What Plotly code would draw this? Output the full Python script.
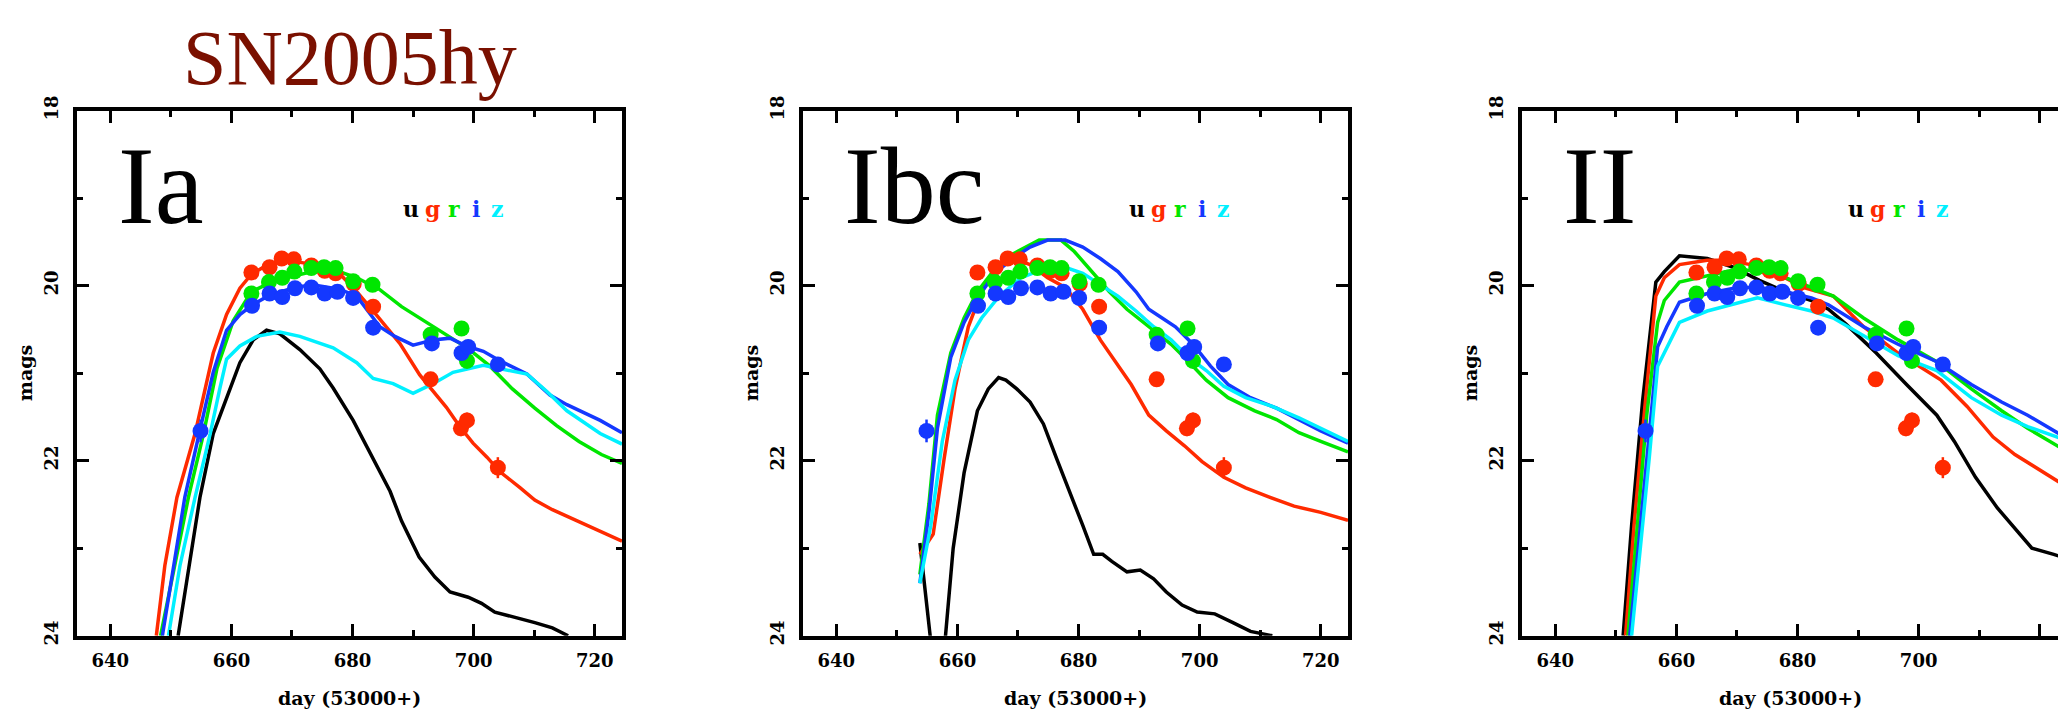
import plotly.graph_objects as go

# ---------------------------------------------------------------
# SN2005hy photometry (day = MJD - 53000)
# ---------------------------------------------------------------
g_day = [663.3, 666.3, 668.3, 670.3, 673.2, 675.4, 677.2, 680.2, 683.4, 692.9, 697.9, 698.9, 704.0]
g_mag = [19.85, 19.79, 19.69, 19.70, 19.77, 19.83, 19.86, 19.98, 20.24, 21.07, 21.63, 21.54, 22.08]
g_err = [0.03, 0.03, 0.03, 0.03, 0.03, 0.03, 0.03, 0.04, 0.05, 0.07, 0.09, 0.09, 0.12]

r_day = [663.3, 666.2, 668.4, 670.4, 673.2, 675.3, 677.2, 680.1, 683.3, 692.9, 698.0, 698.9]
r_mag = [20.09, 19.96, 19.91, 19.84, 19.80, 19.79, 19.80, 19.95, 19.99, 20.56, 20.49, 20.86]
r_err = [0.03, 0.03, 0.03, 0.03, 0.03, 0.03, 0.03, 0.03, 0.04, 0.05, 0.06, 0.06]

i_day = [654.9, 663.4, 666.3, 668.4, 670.5, 673.2, 675.4, 677.5, 680.1, 683.4, 693.1, 698.0, 699.1, 704.0]
i_mag = [21.66, 20.23, 20.09, 20.13, 20.03, 20.02, 20.09, 20.07, 20.14, 20.48, 20.66, 20.77, 20.70, 20.90]
i_err = [0.13, 0.03, 0.03, 0.03, 0.03, 0.03, 0.03, 0.03, 0.03, 0.04, 0.05, 0.06, 0.06, 0.07]

# ---------------------------------------------------------------
# Template light curves: type Ia
# ---------------------------------------------------------------
ia_u_day = [651.2, 653.0, 654.8, 657.0, 659.5, 661.4, 663.6, 665.8, 668.0, 671.3, 674.6, 676.8, 680.1,
            683.4, 686.2, 688.1, 691.0, 693.6, 696.1, 699.1, 701.3, 703.5, 706.4, 710.1, 713.0, 715.6]
ia_u_mag = [24.0, 23.2, 22.42, 21.69, 21.23, 20.88, 20.62, 20.51, 20.55, 20.73, 20.95, 21.17, 21.54,
            21.98, 22.35, 22.69, 23.10, 23.33, 23.50, 23.56, 23.63, 23.73, 23.78, 23.85, 23.91, 24.0]

ia_g_day = [647.6, 649.0, 651.0, 654.0, 657.0, 659.2, 661.4, 663.3, 666.0, 669.0, 671.9, 674.8, 677.8,
            680.7, 683.9, 687.8, 691.1, 693.3, 695.5, 697.7, 699.9, 702.2, 704.4, 707.7, 710.1, 713.0,
            715.9, 718.9, 721.8, 724.5]
ia_g_mag = [24.0, 23.2, 22.42, 21.69, 20.77, 20.33, 20.03, 19.87, 19.76, 19.71, 19.74, 19.79, 19.86,
            20.07, 20.33, 20.66, 21.02, 21.21, 21.39, 21.61, 21.80, 21.96, 22.13, 22.31, 22.45, 22.56,
            22.65, 22.75, 22.84, 22.92]

ia_r_day = [648.3, 650.6, 652.9, 655.4, 657.6, 660.3, 663.3, 666.0, 669.7, 673.4, 677.8, 680.7, 684.4,
            688.1, 691.7, 695.4, 699.1, 702.7, 706.4, 710.1, 713.7, 717.4, 721.1, 724.5]
ia_r_mag = [24.0, 23.2, 22.42, 21.69, 20.95, 20.40, 20.07, 19.98, 19.90, 19.84, 19.84, 19.91, 20.04,
            20.24, 20.40, 20.56, 20.72, 20.92, 21.18, 21.40, 21.60, 21.78, 21.93, 22.03]

ia_i_day = [648.6, 650.5, 652.3, 654.8, 657.0, 659.2, 661.4, 663.5, 666.0, 670.4, 673.4, 677.8, 680.7,
            684.5, 687.0, 690.0, 693.3, 696.1, 698.8, 701.6, 704.4, 708.8, 712.6, 715.4, 720.9, 724.5]
ia_i_mag = [24.0, 23.2, 22.42, 21.65, 20.99, 20.51, 20.33, 20.22, 20.12, 20.02, 19.99, 20.04, 20.12,
            20.47, 20.58, 20.68, 20.62, 20.60, 20.69, 20.75, 20.86, 21.01, 21.25, 21.36, 21.54, 21.68]

ia_z_day = [649.6, 651.5, 654.0, 656.5, 658.1, 659.2, 661.4, 664.2, 668.0, 671.3, 676.8, 680.7, 683.4,
            686.7, 690.0, 693.3, 696.6, 701.6, 704.4, 708.8, 712.1, 715.4, 720.9, 724.5]
ia_z_mag = [24.0, 23.2, 22.42, 21.69, 21.17, 20.84, 20.69, 20.58, 20.53, 20.58, 20.71, 20.88, 21.06,
            21.12, 21.23, 21.12, 20.99, 20.91, 20.95, 21.01, 21.21, 21.43, 21.69, 21.81]

# ---------------------------------------------------------------
# Template light curves: type Ibc
# ---------------------------------------------------------------
ibc_u_day = [653.8, 654.6, 655.6, 656.3, 657.4, 658.0, 659.3, 661.1, 663.3, 665.1, 666.8, 668.0, 669.8,
             672.0, 674.2, 676.4, 678.5, 680.7, 682.5, 684.0, 685.5, 688.0, 690.2, 692.4, 694.5, 697.1,
             699.6, 702.5, 705.5, 708.4, 712.0]
ibc_u_mag = [22.94, 23.40, 24.0, 24.5, 24.5, 24.0, 23.0, 22.14, 21.43, 21.18, 21.05, 21.08, 21.18,
             21.33, 21.58, 21.98, 22.34, 22.74, 23.07, 23.07, 23.15, 23.27, 23.25, 23.35, 23.50, 23.65,
             23.73, 23.75, 23.85, 23.95, 24.0]

ibc_g_day = [653.8, 656.0, 657.8, 659.6, 661.8, 664.0, 666.2, 669.1, 672.0, 674.9, 677.8, 680.7, 683.6,
             686.5, 688.7, 691.6, 694.5, 697.5, 700.4, 704.0, 707.6, 711.3, 715.6, 720.0, 724.5]
ibc_g_mag = [23.07, 22.84, 21.98, 21.18, 20.47, 20.07, 19.81, 19.69, 19.76, 19.91, 20.02, 20.27, 20.62,
             20.92, 21.13, 21.48, 21.66, 21.83, 22.01, 22.19, 22.31, 22.41, 22.52, 22.59, 22.68]

ibc_r_day = [653.8, 655.3, 656.7, 658.9, 661.1, 663.3, 666.2, 669.1, 673.5, 677.1, 679.3, 682.2, 685.1,
             688.0, 691.6, 695.3, 698.2, 701.1, 704.7, 709.1, 712.7, 716.4, 720.0, 724.5]
ibc_r_mag = [23.30, 22.49, 21.48, 20.77, 20.37, 20.07, 19.81, 19.64, 19.48, 19.48, 19.61, 19.84, 20.07,
             20.27, 20.47, 20.67, 20.87, 21.08, 21.28, 21.43, 21.53, 21.68, 21.78, 21.90]

ibc_i_day = [653.8, 655.3, 656.7, 658.9, 661.1, 663.3, 666.2, 669.1, 672.0, 674.9, 677.8, 680.7, 683.6,
             686.5, 689.5, 691.6, 693.8, 696.0, 698.9, 701.8, 704.7, 708.4, 712.7, 716.4, 720.0, 724.5]
ibc_i_mag = [23.40, 22.59, 21.63, 20.82, 20.42, 20.14, 19.86, 19.69, 19.56, 19.48, 19.48, 19.56, 19.69,
             19.84, 20.07, 20.27, 20.37, 20.47, 20.67, 20.92, 21.13, 21.28, 21.40, 21.53, 21.66, 21.80]

ibc_z_day = [653.8, 655.6, 657.5, 659.6, 661.8, 664.0, 666.9, 670.5, 674.2, 677.8, 680.7, 683.6, 686.5,
             689.5, 692.4, 695.3, 698.2, 701.1, 704.0, 707.6, 712.0, 716.4, 720.0, 724.5]
ibc_z_mag = [23.40, 22.74, 21.78, 21.08, 20.62, 20.37, 20.12, 19.91, 19.81, 19.79, 19.86, 19.99, 20.12,
             20.29, 20.47, 20.62, 20.82, 20.97, 21.15, 21.28, 21.38, 21.51, 21.63, 21.78]

# ---------------------------------------------------------------
# Template light curves: type II
# ---------------------------------------------------------------
ii_u_day = [651.2, 652.6, 654.4, 656.6, 658.0, 660.5, 665.1, 669.4, 673.7, 678.0, 682.3, 685.1, 688.0,
            693.0, 698.0, 703.0, 705.9, 709.4, 713.0, 716.6, 718.7, 722.3, 724.5]
ii_u_mag = [24.0, 22.74, 21.33, 19.96, 19.84, 19.66, 19.69, 19.79, 19.94, 20.07, 20.17, 20.27, 20.44,
            20.77, 21.13, 21.48, 21.78, 22.19, 22.54, 22.84, 23.00, 23.07, 23.12]

ii_g_day = [651.6, 653.0, 654.8, 656.6, 658.0, 660.5, 665.1, 668.0, 672.3, 676.6, 680.9, 685.9, 690.9,
            696.6, 700.1, 703.7, 708.0, 712.3, 715.9, 719.4, 722.9, 724.5]
ii_g_mag = [24.0, 22.74, 21.38, 20.12, 19.91, 19.76, 19.71, 19.71, 19.76, 19.86, 20.02, 20.12, 20.47,
            20.77, 20.92, 21.08, 21.38, 21.73, 21.93, 22.08, 22.24, 22.30]

ii_r_day = [652.0, 653.4, 655.1, 656.9, 658.0, 660.5, 665.1, 670.1, 673.7, 678.0, 682.3, 685.9, 690.9,
            696.6, 703.0, 708.7, 713.7, 718.0, 722.9, 724.5]
ii_r_mag = [24.0, 22.89, 21.48, 20.42, 20.17, 19.96, 19.89, 19.81, 19.84, 19.91, 20.02, 20.12, 20.37,
            20.62, 20.87, 21.18, 21.43, 21.63, 21.83, 21.90]

ii_i_day = [652.3, 653.7, 655.5, 656.9, 658.4, 660.5, 665.1, 670.1, 673.7, 678.0, 682.3, 685.1, 690.9,
            696.6, 703.0, 708.7, 713.7, 718.0, 722.9, 724.5]
ii_i_mag = [24.0, 23.0, 21.73, 20.70, 20.47, 20.19, 20.09, 20.02, 20.02, 20.07, 20.14, 20.22, 20.47,
            20.67, 20.87, 21.13, 21.33, 21.48, 21.68, 21.74]

ii_z_day = [652.6, 654.1, 655.5, 656.9, 658.7, 660.5, 665.1, 669.4, 673.4, 678.0, 682.3, 685.9, 690.9,
            696.6, 703.0, 708.7, 713.7, 718.0, 722.9, 724.5]
ii_z_mag = [24.0, 23.0, 21.98, 20.92, 20.67, 20.42, 20.29, 20.21, 20.14, 20.22, 20.29, 20.37, 20.57,
            20.80, 20.97, 21.28, 21.48, 21.61, 21.73, 21.78]

# ---------------------------------------------------------------
panel_labels = ["Ia", "Ibc", "II"]
title_text = "SN2005hy"
x_title = "day (53000+)"
y_title = "mags"
band_names = ["u", "g", "r", "i", "z"]
x_tick_vals = [640, 660, 680, 700, 720]
y_tick_vals = [18, 20, 22, 24]

band_colors = {"u": "#000000", "g": "#ff2a00", "r": "#00e600", "i": "#1438ff", "z": "#00f0ff"}

templates = [
    {"u": (ia_u_day, ia_u_mag), "g": (ia_g_day, ia_g_mag), "r": (ia_r_day, ia_r_mag),
     "i": (ia_i_day, ia_i_mag), "z": (ia_z_day, ia_z_mag)},
    {"u": (ibc_u_day, ibc_u_mag), "g": (ibc_g_day, ibc_g_mag), "r": (ibc_r_day, ibc_r_mag),
     "i": (ibc_i_day, ibc_i_mag), "z": (ibc_z_day, ibc_z_mag)},
    {"u": (ii_u_day, ii_u_mag), "g": (ii_g_day, ii_g_mag), "r": (ii_r_day, ii_r_mag),
     "i": (ii_i_day, ii_i_mag), "z": (ii_z_day, ii_z_mag)},
]
observations = [("g", g_day, g_mag, g_err), ("r", r_day, r_mag, r_err), ("i", i_day, i_mag, i_err)]

# ---------------------------------------------------------------
W, H = 2058, 722
box_left = [77, 803, 1522]
box_w = 545
box_top, box_bot = 99, 643
px_per_day = box_w / 90.0
x_lo = 634.5

fig = go.Figure()

tick_font = dict(family="DejaVu Serif", size=18, color="black", weight="bold")
label_font = dict(family="DejaVu Serif", size=19, color="black", weight="bold")

for p in range(3):
    suffix = "" if p == 0 else str(p + 1)
    xa, ya = "x" + suffix, "y" + suffix
    left = box_left[p]
    right = min(left + box_w, W)
    x_hi = x_lo + (right - left) / px_per_day

    for b in band_names:
        d, m = templates[p][b]
        fig.add_trace(go.Scatter(x=d, y=m, mode="lines", xaxis=xa, yaxis=ya,
                                 line=dict(color=band_colors[b], width=3.5), showlegend=False,
                                 hoverinfo="skip"))
    for b, d, m, e in observations:
        fig.add_trace(go.Scatter(x=d, y=m, mode="markers", xaxis=xa, yaxis=ya, showlegend=False,
                                 marker=dict(color=band_colors[b], size=16, line=dict(width=0)),
                                 error_y=dict(type="data", array=e, color=band_colors[b],
                                              thickness=2.5, width=0),
                                 hoverinfo="skip"))

    full_box = p < 2
    fig.layout["xaxis" + suffix] = dict(
        domain=[left / W, right / W], range=[x_lo, x_hi], anchor=ya,
        tickmode="array", tickvals=x_tick_vals, ticks="inside", ticklen=12, tickwidth=3,
        tickcolor="black", showline=True, linewidth=4, linecolor="black", mirror="ticks",
        showgrid=False, zeroline=False, tickfont=tick_font, ticklabelstandoff=6,
        minor=dict(dtick=10, tick0=630, ticks="inside", ticklen=6, tickwidth=3, tickcolor="black",
                   showgrid=False),
    )
    fig.layout["yaxis" + suffix] = dict(
        domain=[1 - box_bot / H, 1 - box_top / H], range=[24, 18], anchor=xa,
        tickmode="array", tickvals=y_tick_vals, ticks="inside", ticklen=12, tickwidth=3,
        tickcolor="black", showline=True, linewidth=4, linecolor="black",
        mirror="ticks" if full_box else False,
        showgrid=False, zeroline=False, tickfont=tick_font, tickangle=-90, ticklabelstandoff=8,
        minor=dict(dtick=1, tick0=18, ticks="inside", ticklen=6, tickwidth=3, tickcolor="black",
                   showgrid=False),
    )

    # type label
    fig.add_annotation(x=641.0, y=18.86, xref=xa, yref=ya, text=panel_labels[p], showarrow=False,
                       xanchor="left", yanchor="middle",
                       font=dict(family="Liberation Serif", size=110, color="black"))
    # band key
    for k, b in enumerate(band_names):
        fig.add_annotation(x=689.6 + 3.6 * k, y=19.12, xref=xa, yref=ya, text=b, showarrow=False,
                           xanchor="center", yanchor="middle",
                           font=dict(family="DejaVu Serif", size=22, color=band_colors[b],
                                     weight="bold"))
    # axis titles
    fig.add_annotation(x=0.5, y=0, xref=xa + " domain", yref=ya + " domain", text=x_title,
                       showarrow=False, xanchor="center", yanchor="middle", yshift=-62,
                       font=label_font)
    fig.add_annotation(x=0, y=0.5, xref=xa + " domain", yref=ya + " domain", text=y_title,
                       showarrow=False, xanchor="center", yanchor="middle", xshift=-52,
                       textangle=-90, font=label_font)

fig.add_annotation(x=(box_left[0] + box_w / 2) / W, y=1 - 44 / H, xref="paper", yref="paper",
                   text=title_text, showarrow=False, xanchor="center", yanchor="middle",
                   font=dict(family="Liberation Serif", size=78, color="#7a1000"))

fig.update_layout(width=W, height=H, margin=dict(l=0, r=0, t=0, b=0),
                  paper_bgcolor="white", plot_bgcolor="white", showlegend=False)

fig.write_html("out.html")
